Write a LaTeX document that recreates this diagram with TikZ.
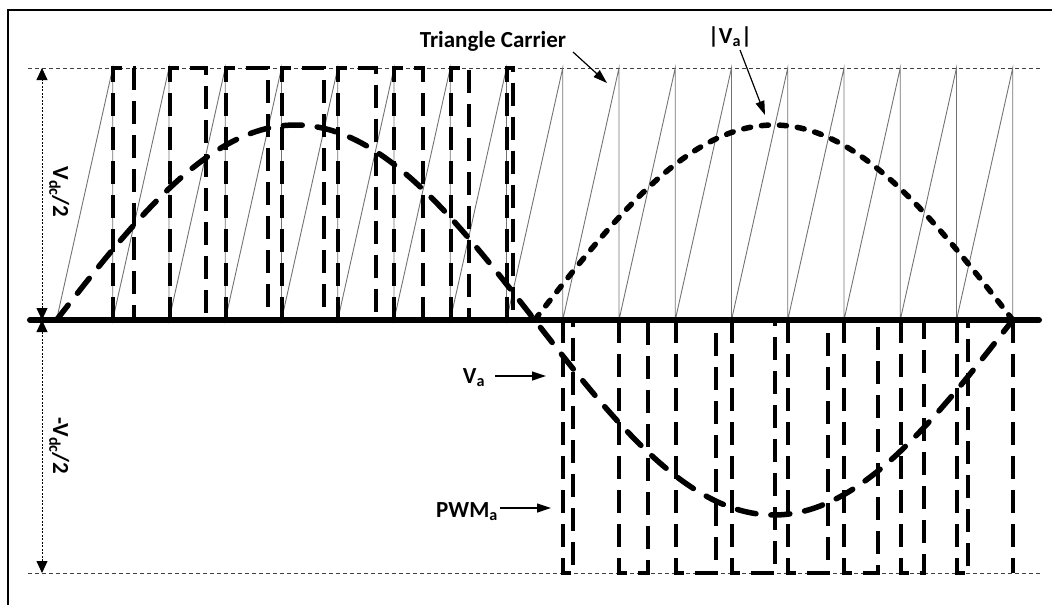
\documentclass[tikz,border=0pt]{standalone}
\usepackage{fontspec}
\setmainfont{Carlito}
\usetikzlibrary{arrows.meta}

\begin{document}
\begin{tikzpicture}[x=1pt,y=-1pt,
  lbl/.style={font=\fontsize{23}{27}\selectfont\bfseries, inner sep=0pt},
  ptr/.style={line width=1.2pt, -{Triangle[length=14pt,width=9pt]}},
  refline/.style={line width=0.8pt, dash pattern=on 4pt off 3pt, black!75},
  dimline/.style={line width=0.8pt, dash pattern=on 2pt off 1.5pt,
    {Triangle[length=12pt,width=11pt]}-{Triangle[length=12pt,width=11pt]}},
  carrier/.style={line width=0.9pt, black!55},
  pwm/.style={line width=4pt, dash pattern=on 23pt off 11pt},
  sinew/.style={line width=5.5pt, dash pattern=on 19pt off 15pt, line cap=round},
  absw/.style={line width=5.5pt, dash pattern=on 7pt off 11pt, line cap=round},
  axisline/.style={line width=6pt, line cap=round}
]
\useasboundingbox (0,0) rectangle (1052,605);

% frame
\draw[line width=1.3pt] (8,605) -- (8,10) -- (1052,10);

% +Vdc/2 and -Vdc/2 levels
\coordinate (T0) at (28,68);  \coordinate (T1) at (1042,68);
\coordinate (B0) at (28,573); \coordinate (B1) at (1042,573);
\draw[refline] (T0) -- (T1);
\draw[refline] (B0) -- (B1);

% sawtooth carrier
\draw[carrier] (56.5,320)
  \foreach \k in {1,...,17}{ -- ({56.5+56.25*\k},68) -- ({56.5+56.25*\k},320) };

% PWM output, positive half cycle
\foreach \a/\b in {113/134, 169.5/205.5, 225.5/268, 282/324, 338/375.5,
                   394/423, 450.5/468.5, 507/512.5}
  \draw[pwm] (\a,320) -- (\a,68) -- (\b,68) -- (\b,320);
% PWM output, negative half cycle
\foreach \a/\b in {562.5/573, 619/648, 675.5/715.5, 731.5/775, 788/828,
                   844/877.5, 900.5/923.5, 956.5/968}
  \draw[pwm] (\a,320) -- (\a,573) -- (\b,573) -- (\b,320);
\draw[pwm] (1012.75,320) -- (1012.75,573);

% zero axis
\coordinate (A0) at (30,320); \coordinate (A1) at (1039,320);
\draw[axisline] (A0) -- (A1);

% reference Va and rectified |Va|
\draw[sinew] plot[domain=56.5:1012.75, samples=240, smooth]
  (\x, {320-195*sin((\x-56.5)/478.125*180)});
\draw[absw] plot[domain=534.625:1012.75, samples=140, smooth]
  (\x, {320+195*sin((\x-56.5)/478.125*180)});

% dimension arrows
\coordinate (D0) at (42,68); \coordinate (D1) at (42,320); \coordinate (D2) at (42,573);
\draw[dimline] (D1) -- (D0);
\draw[dimline] (D1) -- (D2);
\node[lbl, rotate=-90, anchor=base] (vdc) at (53,192) {V\textsubscript{dc}/2};
\node[lbl, rotate=-90, anchor=base] (mvdc) at (53,446) {-V\textsubscript{dc}/2};

% labels with pointers
\node[lbl, anchor=base] (tc) at (493,47) {Triangle Carrier};
\coordinate (tcA) at (573,52); \coordinate (tcB) at (607,83);
\draw[ptr] (tcA) -- (tcB);

\node[lbl, anchor=base] (absva) at (730,43) {|V\textsubscript{a}|};
\coordinate (abA) at (740,50); \coordinate (abB) at (765,115);
\draw[ptr] (abA) -- (abB);

\node[lbl, anchor=base] (va) at (474,383) {V\textsubscript{a}};
\coordinate (vaA) at (495,376); \coordinate (vaB) at (546,376);
\draw[ptr] (vaA) -- (vaB);

\node[lbl, anchor=base] (pwma) at (467,517) {PWM\textsubscript{a}};
\coordinate (pwA) at (500,508); \coordinate (pwB) at (551,508);
\draw[ptr] (pwA) -- (pwB);
\end{tikzpicture}
\end{document}
